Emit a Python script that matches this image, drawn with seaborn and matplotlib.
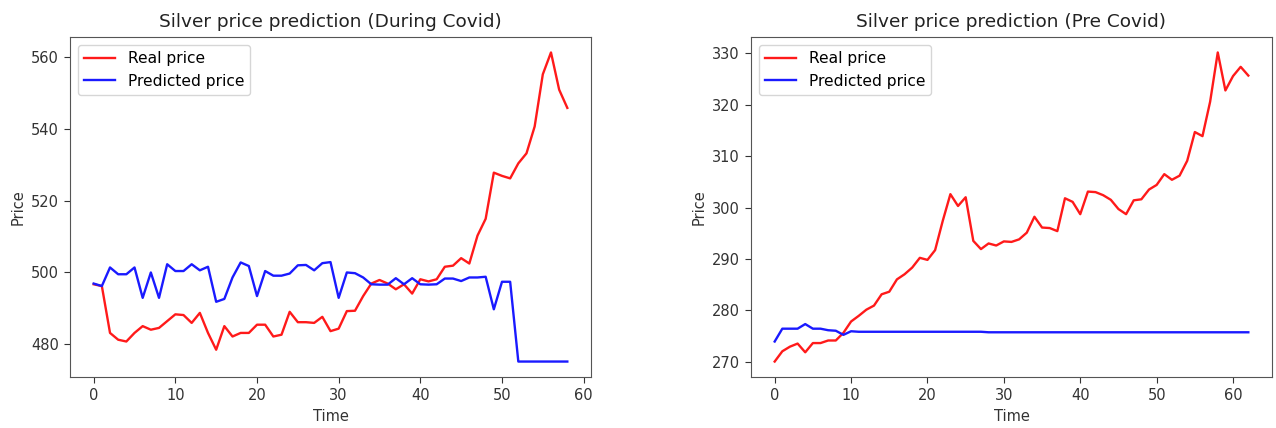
import matplotlib
matplotlib.use("Agg")
import matplotlib.pyplot as plt
import seaborn as sns
import pandas as pd

# ---- data ----
during_real = [496.6, 496.1, 483.0, 481.1, 480.6, 483.0, 484.9, 483.9, 484.4, 486.3,
               488.2, 488.0, 485.8, 488.6, 483.0, 478.3, 484.9, 482.0, 483.0, 483.0,
               485.3, 485.3, 482.0, 482.5, 488.9, 486.0, 486.0, 485.8, 487.5, 483.5,
               484.2, 489.1, 489.2, 493.3, 496.8, 497.8, 496.8, 495.2, 496.6, 494.0,
               498.0, 497.4, 498.0, 501.5, 501.8, 503.9, 502.4, 510.2, 514.9, 527.8,
               526.9, 526.2, 530.4, 533.2, 540.7, 555.3, 561.4, 551.0, 545.9]
during_pred = [496.8, 496.1, 501.3, 499.4, 499.4, 501.3, 492.8, 499.9, 492.8, 502.2,
               500.3, 500.3, 502.2, 500.5, 501.5, 491.7, 492.5, 498.5, 502.7, 501.7,
               493.3, 500.3, 499.0, 499.0, 499.6, 501.9, 502.0, 500.5, 502.5, 502.8,
               492.8, 499.9, 499.7, 498.5, 496.6, 496.5, 496.5, 498.3, 496.6, 498.3,
               496.6, 496.5, 496.6, 498.2, 498.2, 497.5, 498.5, 498.5, 498.7, 489.6,
               497.3, 497.3, 475.0, 475.0, 475.0, 475.0, 475.0, 475.0, 475.0]

pre_real = [270.0, 272.0, 272.9, 273.5, 271.8, 273.6, 273.6, 274.1, 274.1, 275.6,
            277.8, 278.9, 280.1, 280.9, 283.1, 283.6, 286.0, 287.0, 288.3, 290.2,
            289.8, 291.7, 297.4, 302.6, 300.3, 302.0, 293.5, 291.9, 293.0, 292.6,
            293.4, 293.3, 293.8, 295.1, 298.2, 296.1, 296.0, 295.4, 301.8, 301.1,
            298.7, 303.1, 303.0, 302.4, 301.5, 299.7, 298.7, 301.4, 301.6, 303.5,
            304.4, 306.5, 305.4, 306.2, 309.1, 314.7, 313.9, 320.6, 330.2, 322.8,
            325.6, 327.4, 325.7]
pre_pred = [273.9, 276.4, 276.4, 276.4, 277.3, 276.4, 276.4, 276.1, 276.0, 275.2,
            275.9, 275.8, 275.8, 275.8, 275.8, 275.8, 275.8, 275.8, 275.8, 275.8,
            275.8, 275.8, 275.8, 275.8, 275.8, 275.8, 275.8, 275.8, 275.7, 275.7,
            275.7, 275.7, 275.7, 275.7, 275.7, 275.7, 275.7, 275.7, 275.7, 275.7,
            275.7, 275.7, 275.7, 275.7, 275.7, 275.7, 275.7, 275.7, 275.7, 275.7,
            275.7, 275.7, 275.7, 275.7, 275.7, 275.7, 275.7, 275.7, 275.7, 275.7,
            275.7, 275.7, 275.7]

titles = ["Silver price prediction (During Covid)", "Silver price prediction (Pre Covid)"]
series = [(during_real, during_pred), (pre_real, pre_pred)]

plt.rcParams['font.family'] = ['DejaVu Sans']
fig = plt.figure(figsize=(12.76, 4.28), dpi=100)
ax1 = fig.add_axes([70/1276, 1-377/428, 521/1276, 340/428])
ax2 = fig.add_axes([751/1276, 1-377/428, 521/1276, 340/428])

for ax, title, (real, pred) in zip([ax1, ax2], titles, series):
    df = pd.DataFrame({"Time": range(len(real)), "real": real, "pred": pred})
    sns.lineplot(data=df, x="Time", y="real", color="#ff1a1a", label="Real price", ax=ax, linewidth=1.7)
    sns.lineplot(data=df, x="Time", y="pred", color="#1a1aff", label="Predicted price", ax=ax, linewidth=1.7)
    ax.set_title(title, fontsize=13.3, color="#222222", pad=7)
    ax.set_xlabel("Time", fontsize=10.5, color="#333333")
    ax.set_ylabel("Price", fontsize=10.5, color="#333333")
    ax.tick_params(labelsize=10.5, colors="#333333", length=4.5)
    for s in ax.spines.values():
        s.set_color("#555555")
    ax.legend(loc="upper left", fontsize=11.2)

ax1.set_xticks([0, 10, 20, 30, 40, 50, 60])
ax1.set_yticks([480, 500, 520, 540, 560])
ax2.set_xticks([0, 10, 20, 30, 40, 50, 60])
ax2.set_yticks([270, 280, 290, 300, 310, 320, 330])

fig.savefig("out.png", dpi=100)
